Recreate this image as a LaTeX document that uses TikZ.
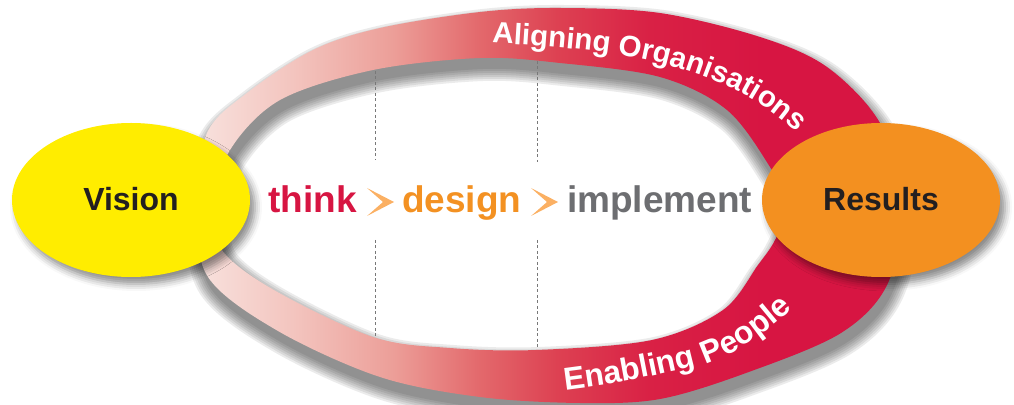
\documentclass[tikz,border=0pt]{standalone}
\usepackage{fontspec}
\setmainfont{Liberation Sans}
\usetikzlibrary{shapes.geometric,decorations.text,shadows.blur}
\definecolor{crimson}{RGB}{215,21,66}
\definecolor{dorange}{RGB}{243,145,34}
\definecolor{chevorange}{RGB}{251,176,99}
\definecolor{igray}{RGB}{109,110,113}
\definecolor{vyellow}{RGB}{255,237,0}
\definecolor{rorange}{RGB}{243,144,32}
\definecolor{txtblack}{RGB}{35,31,32}
\definecolor{dashgray}{RGB}{120,120,120}
\definecolor{rcA}{RGB}{248,226,222}
\definecolor{rcB}{RGB}{243,196,190}
\definecolor{rcC}{RGB}{236,158,152}
\definecolor{rcD}{RGB}{227,105,108}
\definecolor{rcE}{RGB}{221,65,82}
\definecolor{rcF}{RGB}{217,33,69}
\definecolor{rcG}{RGB}{215,21,66}
\pgfdeclarehorizontalshading{ringshade}{100bp}{color(0bp)=(rcA); color(25bp)=(rcA); color(32bp)=(rcB); color(39bp)=(rcC); color(45bp)=(rcD); color(50.5bp)=(rcE); color(57bp)=(rcF); color(65bp)=(rcG); color(75bp)=(rcG); color(100bp)=(rcG)}
\newcommand\ringouter{plot[smooth cycle,tension=0.55] coordinates {(196,199) (207,271) (247,311) (313,354) (380,376) (480,392) (560,396) (660,391) (760,367) (827,337) (880,281) (903,204) (888,121) (841,71) (746,31) (660,5) (580,1) (480,7) (380,27) (278,73) (208,127)}}
\newcommand\ringinner{plot[smooth cycle,tension=0.55] coordinates {(215,199) (230,254) (280,304) (373,334) (480,346) (560,341) (660,327) (727,294) (770,237) (788,199) (775,164) (758,139) (723,94) (652,64) (536,54) (450,56) (373,67) (274,114) (222,154)}}
\newcommand\topfont{\fontsize{5.9}{6}\selectfont\bfseries}
\newcommand\botfont{\fontsize{6.35}{6}\selectfont\bfseries}
\begin{document}
\begin{tikzpicture}[x=1pt,y=1pt,
  flow/.style={inner sep=0pt, font=\fontsize{37}{37}\selectfont\bfseries},
  chev/.style={fill=chevorange},
  divider/.style={dashgray, line width=0.9pt, dash pattern=on 3pt off 2.5pt},
  bubble/.style={ellipse, minimum width=238pt, minimum height=154pt, inner sep=0pt,
    font=\fontsize{32}{32}\selectfont\bfseries, text=txtblack,
    blur shadow={shadow xshift=5pt, shadow yshift=-7pt, shadow blur radius=7pt, shadow opacity=45}},
  ringtext/.style={decorate, decoration={text along path, text color=white, text={#1}}}
]
\useasboundingbox (0,0) rectangle (1014,404);
% ring shadow
\begin{scope}[shift={(3,-10)}]
\foreach \w in {2,6,10,14,18,22,26}{
  \begin{scope}[transparency group, opacity=0.08]
    \filldraw[black, even odd rule, line width=\w pt, line join=round] \ringouter \ringinner;
  \end{scope}}
\end{scope}
% ring
\shade[shading=ringshade, even odd rule] \ringouter \ringinner;
% dividers
\coordinate (a1) at (375,333); \coordinate (a2) at (375,244);
\coordinate (a3) at (375,164); \coordinate (a4) at (375,68);
\coordinate (b1) at (537,343); \coordinate (b2) at (537,242);
\coordinate (b3) at (537,164); \coordinate (b4) at (537,55);
\draw[divider] (a1) -- (a2); \draw[divider] (a3) -- (a4);
\draw[divider] (b1) -- (b2); \draw[divider] (b3) -- (b4);
% flow words
\node[flow, text=crimson, anchor=base west] (think) at (268,191) {think};
\node[flow, text=dorange, anchor=base west] (design) at (402,191) {design};
\node[flow, text=igray, anchor=base west] (impl) at (567,191) {implement};
\fill[chev] (367,216) -- (394,202) -- (367,188) -- (383,202) -- cycle;
\fill[chev] (531,216) -- (558,202) -- (531,188) -- (547,202) -- cycle;
% ring texts (drawn at 1/5 size, scaled up)
\begin{scope}[transform canvas={scale=5}]
\path[ringtext={|\topfont|Aligning Organisations}] (98.4,72.2) .. controls (112,71.5) and (121,70.5) .. (126.6,69.4) .. controls (137,67.5) and (146,64) .. (152,60) .. controls (158,56) and (163,51) .. (168,45);
\path[ringtext={|\botfont|Enabling People}] (113,2.8) .. controls (125,4.3) and (136,6.6) .. (142.6,8.6) .. controls (150,11.5) and (157,16.5) .. (170,31);
\end{scope}
% bubbles
\node[bubble, fill=vyellow] (vision) at (131,204) {\raisebox{2.5pt}{Vision}};
\node[bubble, fill=rorange] (results) at (881,204) {\raisebox{2.5pt}{Results}};
\end{tikzpicture}
\end{document}
